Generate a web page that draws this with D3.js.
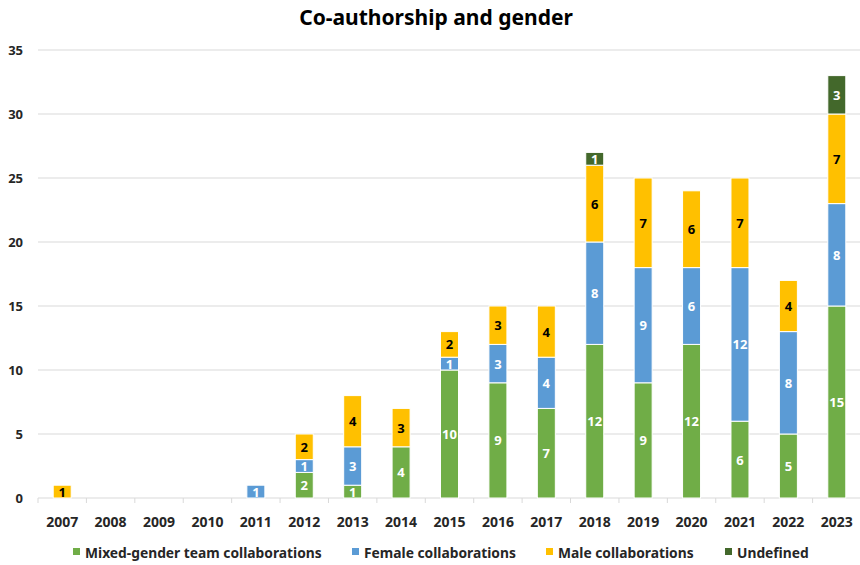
<!DOCTYPE html>
<html>
<head>
<meta charset="utf-8">
<script src="https://cdn.jsdelivr.net/npm/d3@7"></script>
<style>
  body { margin: 0; background: #fff; }
  svg { display: block; font-family: "Noto Sans", "Open Sans", sans-serif; }
</style>
</head>
<body>
<svg id="chart" width="860" height="565"></svg>
<script>
// Publications per year, split by co-author gender composition
const years = ["2007","2008","2009","2010","2011","2012","2013","2014","2015","2016","2017","2018","2019","2020","2021","2022","2023"];
const mixed     = [0,0,0,0,0,2,1,4,10,9,7,12,9,12,6,5,15];
const female    = [0,0,0,0,1,1,3,0,1,3,4,8,9,6,12,8,8];
const male      = [1,0,0,0,0,2,4,3,2,3,4,6,7,6,7,4,7];
const undefinedG= [0,0,0,0,0,0,0,0,0,0,0,1,0,0,0,0,3];
const yTicks = [0,5,10,15,20,25,30,35];

const seriesNames = ["Mixed-gender team collaborations","Female collaborations","Male collaborations","Undefined"];
const seriesValues = [mixed, female, male, undefinedG];
const colors = ["#70AD47","#5B9BD5","#FFC000","#43682B"];
const labelColors = ["#ffffff","#ffffff","#000000","#ffffff"];

const svg = d3.select("#chart");
const margin = {left: 38, top: 50};

const x = d3.scaleBand().domain(years).range([margin.left, 861]).paddingInner(0).paddingOuter(0);
const y = d3.scaleLinear().domain([0,35]).range([498, 50]);
const barW = 18;

// Title
svg.append("text")
  .attr("x", 436).attr("y", 25)
  .attr("text-anchor", "middle")
  .attr("font-size", 21).attr("font-weight", "bold").attr("fill", "#000")
  .text("Co-authorship and gender");

// Gridlines
svg.append("g").selectAll("line")
  .data(yTicks.filter(t => t > 0))
  .join("line")
  .attr("x1", margin.left).attr("x2", 860)
  .attr("y1", d => y(d)).attr("y2", d => y(d))
  .attr("stroke", "#d9d9d9").attr("stroke-width", 1);

// Y axis labels
svg.append("g").selectAll("text")
  .data(yTicks)
  .join("text")
  .attr("x", 23).attr("y", d => y(d) + 5)
  .attr("text-anchor", "end")
  .attr("font-size", 13).attr("font-weight", "bold").attr("fill", "#262626")
  .text(d => d);

// X axis line with ticks at category boundaries
const xAxis = svg.append("g").attr("transform", `translate(0,${y(0)})`);
xAxis.append("line").attr("x1", margin.left).attr("x2", 860).attr("stroke", "#d9d9d9");
xAxis.selectAll("line.tick")
  .data(years.concat(["end"]))
  .join("line")
  .attr("class", "tick")
  .attr("x1", (d,i) => margin.left + i * x.bandwidth())
  .attr("x2", (d,i) => margin.left + i * x.bandwidth())
  .attr("y1", 0).attr("y2", 5)
  .attr("stroke", "#d9d9d9");
xAxis.selectAll("text")
  .data(years)
  .join("text")
  .attr("x", d => x(d) + x.bandwidth()/2)
  .attr("y", 29)
  .attr("text-anchor", "middle")
  .attr("font-size", 14).attr("font-weight", "bold").attr("fill", "#262626")
  .text(d => d);

// Stacked bars
const table = years.map((yr, i) => {
  const row = {year: yr};
  seriesNames.forEach((s, k) => row[s] = seriesValues[k][i]);
  return row;
});
const stacked = d3.stack().keys(seriesNames)(table);

const barsG = svg.append("g");
stacked.forEach((layer, k) => {
  const g = barsG.append("g");
  layer.forEach(seg => {
    const v = seg[1] - seg[0];
    if (v <= 0) return;
    const cx = x(seg.data.year) + x.bandwidth()/2;
    g.append("rect")
      .attr("x", cx - barW/2)
      .attr("y", y(seg[1]))
      .attr("width", barW)
      .attr("height", y(seg[0]) - y(seg[1]))
      .attr("fill", colors[k])
      .attr("stroke", "#ffffff").attr("stroke-width", 1);
    g.append("text")
      .attr("x", cx)
      .attr("y", (y(seg[0]) + y(seg[1]))/2 + 5)
      .attr("text-anchor", "middle")
      .attr("font-size", 13).attr("font-weight", "bold")
      .attr("fill", labelColors[k])
      .text(v);
  });
});

// Legend
const legendX = [73, 352, 546, 725];
const legend = svg.append("g");
seriesNames.forEach((s, k) => {
  legend.append("rect")
    .attr("x", legendX[k]).attr("y", 548)
    .attr("width", 7).attr("height", 7)
    .attr("fill", colors[k]);
  legend.append("text")
    .attr("x", legendX[k] + 12).attr("y", 558)
    .attr("font-size", 13.8).attr("font-weight", "bold").attr("fill", "#262626")
    .text(s);
});
</script>
</body>
</html>
